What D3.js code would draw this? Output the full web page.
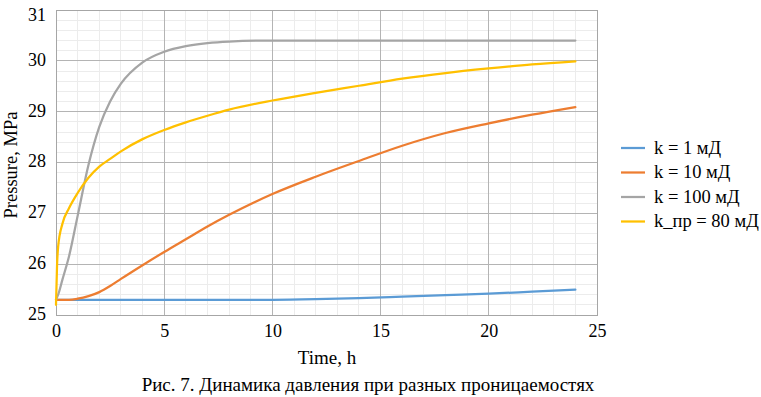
<!DOCTYPE html>
<html>
<head>
<meta charset="utf-8">
<script src="https://cdn.jsdelivr.net/npm/d3@7"></script>
<style>
  body { margin: 0; background: #fff; }
  svg text { font-family: 'Liberation Serif', 'Times New Roman', serif; }
</style>
</head>
<body>
<div id="chart"></div>
<script>
// time, h
const timeH = [0, 0.05, 0.1, 0.3, 0.6, 1, 1.5, 2, 2.5, 3, 4, 5, 6, 7, 8, 10, 12, 14, 16, 18, 20, 22, 24];

// pressure, MPa
const k1 = [25.3, 25.3, 25.3, 25.3, 25.3, 25.3, 25.3, 25.3, 25.3, 25.3, 25.3, 25.3, 25.3, 25.3, 25.3, 25.3, 25.31, 25.33, 25.36, 25.39, 25.42, 25.46, 25.5];
const k10 = [25.3, 25.3, 25.3, 25.3, 25.3, 25.32, 25.37, 25.45, 25.57, 25.71, 25.98, 26.24, 26.49, 26.74, 26.97, 27.38, 27.72, 28.03, 28.33, 28.58, 28.77, 28.94, 29.09];
const k100 = [25.3, 25.35, 25.4, 25.7, 26.15, 26.95, 27.95, 28.7, 29.2, 29.55, 29.97, 30.18, 30.29, 30.35, 30.38, 30.4, 30.4, 30.4, 30.4, 30.4, 30.4, 30.4, 30.4];
const kpr80 = [25.2, 26.0, 26.35, 26.8, 27.1, 27.4, 27.7, 27.92, 28.07, 28.22, 28.46, 28.64, 28.79, 28.92, 29.04, 29.22, 29.37, 29.51, 29.65, 29.76, 29.85, 29.93, 29.99];

const seriesNames = ['k = 1 мД', 'k = 10 мД', 'k = 100 мД', 'k_пр = 80 мД'];
const seriesValues = [k1, k10, k100, kpr80];
const seriesColors = ['#5B9BD5', '#ED7D31', '#A5A5A5', '#FFC000'];

const xTicks = [0, 5, 10, 15, 20, 25];
const yTicks = [25, 26, 27, 28, 29, 30, 31];

const xTitle = 'Time, h';
const yTitle = 'Pressure, MPa';
const caption = 'Рис. 7. Динамика давления при разных проницаемостях';

const width = 761, height = 397;
const plot = { left: 56, right: 597, top: 10, bottom: 315 };
const serif = "'Liberation Serif', 'Times New Roman', serif";

const svg = d3.select('#chart').append('svg')
  .attr('width', width).attr('height', height);

const scaleX = d3.scaleLinear([0, 25], [plot.left, plot.right]);
const scaleY = d3.scaleLinear([25, 31], [plot.bottom, plot.top]);

// minor grid
const grid = svg.append('g');
grid.selectAll('line.minx')
  .data(d3.range(0, 25.01, 1))
  .join('line')
  .attr('x1', d => scaleX(d)).attr('x2', d => scaleX(d))
  .attr('y1', plot.top).attr('y2', plot.bottom)
  .attr('stroke', '#ececec').attr('stroke-width', 1)
  .attr('shape-rendering', 'crispEdges');
grid.selectAll('line.miny')
  .data(d3.range(25, 31.001, 0.2))
  .join('line')
  .attr('x1', plot.left).attr('x2', plot.right)
  .attr('y1', d => scaleY(d)).attr('y2', d => scaleY(d))
  .attr('stroke', '#ececec').attr('stroke-width', 1)
  .attr('shape-rendering', 'crispEdges');

// major grid
svg.append('g').selectAll('line')
  .data(xTicks)
  .join('line')
  .attr('x1', d => scaleX(d)).attr('x2', d => scaleX(d))
  .attr('y1', plot.top).attr('y2', plot.bottom)
  .attr('stroke', '#b4b4b4').attr('stroke-width', 1)
  .attr('shape-rendering', 'crispEdges');
svg.append('g').selectAll('line')
  .data(yTicks)
  .join('line')
  .attr('x1', plot.left).attr('x2', plot.right)
  .attr('y1', d => scaleY(d)).attr('y2', d => scaleY(d))
  .attr('stroke', '#b4b4b4').attr('stroke-width', 1)
  .attr('shape-rendering', 'crispEdges');

// plot border
svg.append('rect')
  .attr('x', plot.left).attr('y', plot.top)
  .attr('width', plot.right - plot.left).attr('height', plot.bottom - plot.top)
  .attr('fill', 'none').attr('stroke', '#a6a6a6')
  .attr('shape-rendering', 'crispEdges');

// axes (labels only)
const axisX = svg.append('g')
  .attr('transform', `translate(0,${plot.bottom})`)
  .call(d3.axisBottom(scaleX).tickValues(xTicks).tickFormat(d3.format('d')).tickSize(0).tickPadding(10));
const axisY = svg.append('g')
  .attr('transform', `translate(${plot.left},0)`)
  .call(d3.axisLeft(scaleY).tickValues(yTicks).tickFormat(d3.format('d')).tickSize(0).tickPadding(10));
[axisX, axisY].forEach(a => {
  a.attr('font-family', null).attr('font-size', null);
  a.select('.domain').remove();
  a.selectAll('text').attr('fill', '#000')
    .style('font-family', serif).style('font-size', '18px');
});
axisX.selectAll('text').attr('dy', '0.65em');
// keep the top label inside the picture
axisY.selectAll('text')
  .attr('dy', '0.3em')
  .attr('y', d => Math.max(-1, 15 - scaleY(d)));

// lines
const line = d3.line()
  .x(d => scaleX(d[0]))
  .y(d => scaleY(d[1]))
  .curve(d3.curveMonotoneX);

svg.append('g').selectAll('path')
  .data(seriesValues)
  .join('path')
  .attr('d', vals => line(timeH.map((t, i) => [t, vals[i]])))
  .attr('fill', 'none')
  .attr('stroke', (d, i) => seriesColors[i])
  .attr('stroke-width', 2.25)
  .attr('stroke-linecap', 'round');

// titles
svg.append('text')
  .attr('x', 327).attr('y', 364)
  .attr('text-anchor', 'middle')
  .style('font-size', '19px')
  .text(xTitle);

svg.append('text')
  .attr('transform', `translate(16.5,165)rotate(-90)`)
  .attr('text-anchor', 'middle')
  .style('font-size', '18.5px')
  .text(yTitle);

svg.append('text')
  .attr('x', 368).attr('y', 391)
  .attr('text-anchor', 'middle')
  .style('font-size', '19px')
  .text(caption);

// legend
const legend = svg.append('g').selectAll('g')
  .data(seriesNames)
  .join('g')
  .attr('transform', (d, i) => `translate(621,${148 + i * 24.5})`);
legend.append('line')
  .attr('x1', 0).attr('x2', 24)
  .attr('stroke', (d, i) => seriesColors[i])
  .attr('stroke-width', 2.25);
legend.append('text')
  .attr('x', 33).attr('dy', '0.32em')
  .style('font-size', '18.5px')
  .text(d => d);
</script>
</body>
</html>
